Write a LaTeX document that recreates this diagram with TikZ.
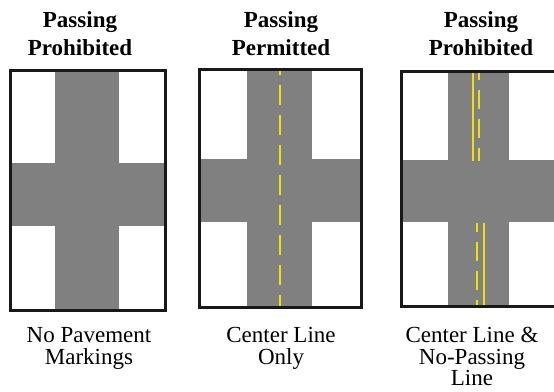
\documentclass[tikz,border=0pt]{standalone}
\usepackage{fontspec}
\setmainfont{Liberation Serif}
\definecolor{roadgray}{RGB}{128,128,128}
\definecolor{yel}{RGB}{238,222,20}
\definecolor{framec}{RGB}{25,25,25}
\begin{document}
\begin{tikzpicture}[x=1pt,y=-1pt,
  road/.style={fill=roadgray},
  frame/.style={draw=framec,line width=3pt},
  yline/.style={draw=yel,line width=2.6pt},
  ttl/.style={font=\rmfamily\fontsize{23}{28}\selectfont\bfseries,anchor=base,inner sep=0pt},
  lbl/.style={font=\rmfamily\fontsize{23}{23}\selectfont,anchor=base,inner sep=0pt}]
\useasboundingbox (0,0) rectangle (554,391);
\clip (0,0) rectangle (554,391);
% Panel 1
\fill[road] (55,70) rectangle (119,310);
\fill[road] (10.5,163) rectangle (165.5,226);
\draw[frame] (10.5,70) rectangle (165.5,310);
% Panel 2
\fill[road] (247,69.5) rectangle (312,307.5);
\fill[road] (199.5,159) rectangle (361.5,222);
\coordinate (c2a) at (280,71);
\coordinate (c2b) at (280,306);
\draw[yline,dash pattern=on 20pt off 10pt,dash phase=16pt] (c2a) -- (c2b);
\draw[frame] (199.5,69.5) rectangle (361.5,307.5);
% Panel 3
\fill[road] (448,71) rectangle (509,306.5);
\fill[road] (401.5,160) rectangle (562,222);
\coordinate (s3a) at (473,72);
\coordinate (s3b) at (473,161);
\coordinate (d3a) at (479,72);
\coordinate (d3b) at (479,161);
\coordinate (d3c) at (477,223);
\coordinate (d3d) at (477,305);
\coordinate (s3c) at (484,223);
\coordinate (s3d) at (484,305);
\draw[yline] (s3a) -- (s3b);
\draw[yline,dash pattern=on 19pt off 10pt,dash phase=11pt] (d3a) -- (d3b);
\draw[yline,dash pattern=on 19pt off 10pt,dash phase=10pt] (d3c) -- (d3d);
\draw[yline] (s3c) -- (s3d);
\draw[frame] (401.5,71) rectangle (562,306.5);
% Titles
\node[ttl] (t1a) at (80,27) {Passing};
\node[ttl] (t1b) at (80,55) {Prohibited};
\node[ttl] (t2a) at (281,27) {Passing};
\node[ttl] (t2b) at (281,55) {Permitted};
\node[ttl] (t3a) at (481,27) {Passing};
\node[ttl] (t3b) at (481,55) {Prohibited};
% Labels
\node[lbl] (l1a) at (89,342) {No Pavement};
\node[lbl] (l1b) at (89,364) {Markings};
\node[lbl] (l2a) at (281,342) {Center Line};
\node[lbl] (l2b) at (281,364) {Only};
\node[lbl] (l3a) at (472,342) {Center Line \&};
\node[lbl] (l3b) at (472,364) {No-Passing};
\node[lbl] (l3c) at (472,385) {Line};
\end{tikzpicture}
\end{document}
